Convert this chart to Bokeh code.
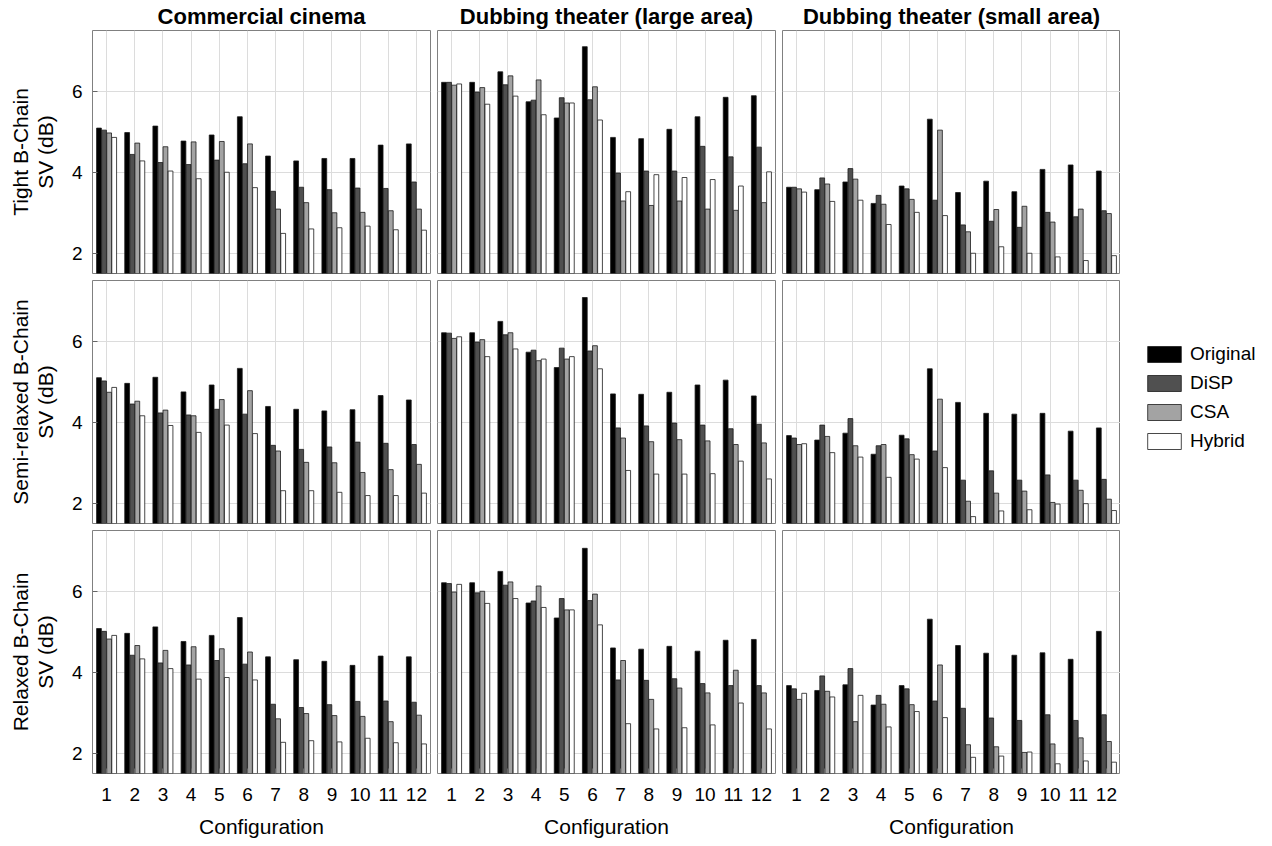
import numpy as np
from bokeh.plotting import figure
from bokeh.layouts import column, row
from bokeh.models import FixedTicker, Legend, LegendItem, Range1d
from bokeh.embed import file_html
from bokeh.resources import INLINE

configs = list(range(1, 13))
series = ["Original", "DiSP", "CSA", "Hybrid"]
venues = ["Commercial cinema", "Dubbing theater (large area)", "Dubbing theater (small area)"]
chains = ["Tight B-Chain", "Semi-relaxed B-Chain", "Relaxed B-Chain"]
y_ticks = [2, 4, 6]

tight_commercial = {
    "Original": [5.09, 4.98, 5.14, 4.77, 4.92, 5.37, 4.40, 4.28, 4.34, 4.34, 4.67, 4.70],
    "DiSP":     [5.04, 4.44, 4.24, 4.19, 4.30, 4.21, 3.53, 3.63, 3.57, 3.61, 3.60, 3.76],
    "CSA":      [4.97, 4.72, 4.63, 4.75, 4.76, 4.70, 3.09, 3.25, 3.00, 3.01, 3.05, 3.09],
    "Hybrid":   [4.86, 4.28, 4.03, 3.84, 4.00, 3.62, 2.49, 2.60, 2.63, 2.67, 2.58, 2.57],
}
tight_large = {
    "Original": [6.22, 6.22, 6.48, 5.74, 5.34, 7.10, 4.86, 4.83, 5.06, 5.37, 5.85, 5.89],
    "DiSP":     [6.22, 5.98, 6.16, 5.78, 5.84, 5.79, 3.98, 4.03, 4.03, 4.64, 4.38, 4.62],
    "CSA":      [6.15, 6.09, 6.38, 6.28, 5.71, 6.11, 3.29, 3.18, 3.29, 3.09, 3.06, 3.25],
    "Hybrid":   [6.18, 5.68, 5.88, 5.42, 5.71, 5.29, 3.52, 3.94, 3.87, 3.82, 3.66, 4.01],
}
tight_small = {
    "Original": [3.63, 3.57, 3.76, 3.23, 3.66, 5.31, 3.50, 3.78, 3.52, 4.07, 4.18, 4.03],
    "DiSP":     [3.63, 3.86, 4.09, 3.43, 3.59, 3.31, 2.70, 2.79, 2.64, 3.01, 2.90, 3.05],
    "CSA":      [3.59, 3.71, 3.83, 3.21, 3.33, 5.04, 2.53, 3.08, 3.16, 2.77, 3.09, 2.98],
    "Hybrid":   [3.51, 3.28, 3.31, 2.71, 3.01, 2.93, 2.00, 2.16, 2.00, 1.91, 1.82, 1.94],
}
semi_commercial = {
    "Original": [5.10, 4.96, 5.11, 4.75, 4.92, 5.33, 4.39, 4.32, 4.28, 4.31, 4.66, 4.55],
    "DiSP":     [5.02, 4.45, 4.23, 4.18, 4.32, 4.20, 3.43, 3.33, 3.39, 3.51, 3.48, 3.45],
    "CSA":      [4.74, 4.52, 4.30, 4.16, 4.56, 4.78, 3.29, 3.01, 3.00, 2.76, 2.83, 2.96],
    "Hybrid":   [4.86, 4.16, 3.92, 3.75, 3.93, 3.72, 2.31, 2.31, 2.27, 2.19, 2.19, 2.25],
}
semi_large = {
    "Original": [6.21, 6.21, 6.49, 5.73, 5.35, 7.08, 4.70, 4.69, 4.74, 4.92, 5.04, 4.65],
    "DiSP":     [6.20, 5.98, 6.16, 5.78, 5.83, 5.76, 3.86, 3.91, 3.98, 3.93, 3.84, 3.95],
    "CSA":      [6.07, 6.04, 6.21, 5.52, 5.56, 5.89, 3.61, 3.52, 3.57, 3.54, 3.45, 3.49],
    "Hybrid":   [6.11, 5.62, 5.81, 5.56, 5.62, 5.32, 2.81, 2.72, 2.72, 2.73, 3.04, 2.60],
}
semi_small = {
    "Original": [3.67, 3.56, 3.73, 3.21, 3.68, 5.32, 4.49, 4.22, 4.20, 4.22, 3.78, 3.86],
    "DiSP":     [3.61, 3.93, 4.09, 3.42, 3.59, 3.29, 2.57, 2.80, 2.57, 2.70, 2.57, 2.59],
    "CSA":      [3.45, 3.65, 3.42, 3.45, 3.20, 4.57, 2.05, 2.25, 2.30, 2.02, 2.32, 2.10],
    "Hybrid":   [3.47, 3.25, 3.14, 2.64, 3.09, 2.88, 1.67, 1.81, 1.84, 1.98, 1.99, 1.82],
}
relaxed_commercial = {
    "Original": [5.08, 4.96, 5.12, 4.76, 4.91, 5.35, 4.38, 4.31, 4.27, 4.17, 4.40, 4.38],
    "DiSP":     [5.01, 4.42, 4.23, 4.18, 4.29, 4.20, 3.21, 3.13, 3.20, 3.28, 3.29, 3.26],
    "CSA":      [4.82, 4.66, 4.54, 4.63, 4.58, 4.50, 2.85, 2.98, 2.93, 2.91, 2.78, 2.94],
    "Hybrid":   [4.91, 4.33, 4.09, 3.83, 3.87, 3.81, 2.27, 2.31, 2.28, 2.37, 2.26, 2.23],
}
relaxed_large = {
    "Original": [6.21, 6.21, 6.49, 5.71, 5.34, 7.06, 4.60, 4.57, 4.64, 4.52, 4.79, 4.81],
    "DiSP":     [6.19, 5.96, 6.15, 5.76, 5.82, 5.77, 3.81, 3.80, 3.84, 3.72, 3.67, 3.67],
    "CSA":      [5.98, 6.00, 6.23, 6.13, 5.54, 5.93, 4.29, 3.33, 3.61, 3.49, 4.05, 3.49],
    "Hybrid":   [6.17, 5.70, 5.82, 5.60, 5.54, 5.17, 2.73, 2.60, 2.63, 2.70, 3.24, 2.60],
}
relaxed_small = {
    "Original": [3.67, 3.55, 3.69, 3.19, 3.67, 5.31, 4.66, 4.47, 4.42, 4.48, 4.32, 5.01],
    "DiSP":     [3.59, 3.91, 4.09, 3.43, 3.59, 3.29, 3.11, 2.87, 2.81, 2.95, 2.81, 2.95],
    "CSA":      [3.33, 3.53, 2.78, 3.21, 3.20, 4.18, 2.21, 2.16, 2.02, 2.23, 2.38, 2.29],
    "Hybrid":   [3.48, 3.39, 3.43, 2.65, 3.03, 2.88, 1.90, 1.93, 2.03, 1.74, 1.81, 1.78],
}

panels = [
    [tight_commercial, tight_large, tight_small],
    [semi_commercial, semi_large, semi_small],
    [relaxed_commercial, relaxed_large, relaxed_small],
]

colors = {"Original": "#000000", "DiSP": "#505050", "CSA": "#a3a3a3", "Hybrid": "#ffffff"}
offsets = {"Original": -0.27, "DiSP": -0.09, "CSA": 0.09, "Hybrid": 0.27}
FONT = "Liberation Sans"
FRAME_W, FRAME_H = 338, 243
LEG_W = 140


def style_axis(ax, ticks, standoff):
    ax.ticker = FixedTicker(ticks=ticks)
    ax.major_tick_in = 5
    ax.major_tick_out = 0
    ax.minor_tick_in = 0
    ax.minor_tick_out = 0
    ax.major_tick_line_color = "#666666"
    ax.axis_line_color = None
    ax.major_label_text_font = FONT
    ax.major_label_text_color = "#000000"
    ax.major_label_text_font_size = "19px"
    ax.major_label_standoff = standoff


def borders(r, c):
    left = 92 if c == 0 else 3
    right = 4 if c < 2 else 0
    top = 30 if r == 0 else 4
    bottom = 66 if r == 2 else 3
    return left, right, top, bottom


def new_fig(r, c, frame_w, xr, yr):
    left, right, top, bottom = borders(r, c)
    p = figure(frame_width=frame_w, frame_height=FRAME_H, x_range=xr, y_range=yr,
               output_backend="svg", toolbar_location=None, tools="",
               min_border_left=left, min_border_right=right,
               min_border_top=top, min_border_bottom=bottom)
    p.background_fill_color = "#ffffff"
    p.border_fill_color = "#ffffff"
    return p


def add_bars(p, data, visible=True):
    x = np.array(configs, dtype=float)
    rends = {}
    for s in series:
        rends[s] = p.vbar(x=x + offsets[s], top=data[s], bottom=0, width=0.17,
                          fill_color=colors[s], line_color="#1a1a1a", line_width=0.8,
                          visible=visible)
    return rends


def make_panel(r, c):
    p = new_fig(r, c, FRAME_W, Range1d(0.5, 12.5), Range1d(1.5, 7.5))
    p.outline_line_color = "#808080"
    p.outline_line_width = 1
    p.xgrid.ticker = FixedTicker(ticks=configs)
    p.ygrid.ticker = FixedTicker(ticks=y_ticks)
    p.grid.grid_line_color = "#dcdcdc"
    p.grid.grid_line_width = 1

    xax = p.xaxis[0]
    yax = p.yaxis[0]
    if r == 2:
        style_axis(xax, configs, 14)
        xax.axis_label = "Configuration"
        xax.axis_label_text_font = FONT
        xax.axis_label_text_font_size = "21px"
        xax.axis_label_text_font_style = "normal"
        xax.axis_label_text_color = "#000000"
        xax.axis_label_standoff = 11
    else:
        xax.visible = False
    if c == 0:
        style_axis(yax, y_ticks, 10)
        yax.axis_label = chains[r] + "\nSV (dB)"
        yax.axis_label_text_font = FONT
        yax.axis_label_text_font_size = "21px"
        yax.axis_label_text_font_style = "normal"
        yax.axis_label_text_line_height = 1.1
        yax.axis_label_text_color = "#000000"
        yax.axis_label_standoff = 12
    else:
        yax.visible = False

    if r == 0:
        p.title.text = venues[c]
        p.title.align = "center"
        p.title.text_font = FONT
        p.title.text_font_size = "22px"
        p.title.text_font_style = "bold"
        p.title.text_color = "#000000"
        p.title.standoff = 3

    add_bars(p, panels[r][c])
    return p


def make_legend_panel(r):
    # legend-only panel; its renderers mirror the neighbouring panel but stay hidden
    p = new_fig(r, 3, LEG_W, Range1d(0.5, 12.5), Range1d(1.5, 7.5))
    p.min_border_left = 0
    p.min_border_right = 0
    p.outline_line_color = None
    p.grid.visible = False
    p.axis.visible = False
    rends = add_bars(p, panels[r][2], visible=False)
    legend = Legend(items=[LegendItem(label=s, renderers=[rends[s]]) for s in series],
                    location=(23, 71), orientation="vertical")
    legend.glyph_width = 42
    legend.glyph_height = 20
    legend.label_height = 20
    legend.spacing = 7
    legend.padding = 0
    legend.margin = 0
    legend.label_standoff = 5
    legend.label_text_font = FONT
    legend.label_text_font_size = "19px"
    legend.label_text_color = "#000000"
    legend.border_line_color = None
    legend.background_fill_alpha = 0
    legend.inactive_fill_alpha = 0
    p.add_layout(legend)
    return p


rows = []
for r in range(3):
    figs = [make_panel(r, c) for c in range(3)]
    if r == 1:
        figs.append(make_legend_panel(r))
    rows.append(row(*figs))
layout = column(*rows)

open("out.html", "w").write(file_html(layout, INLINE))
